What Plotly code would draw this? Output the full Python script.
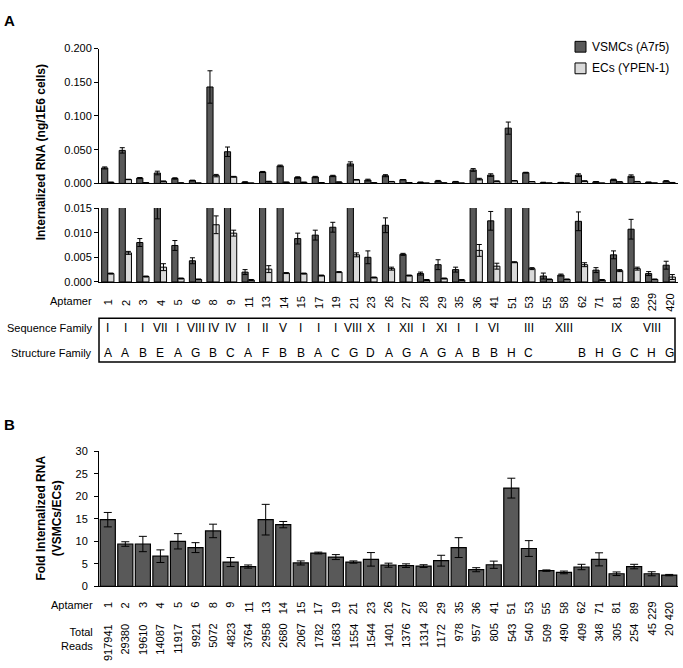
import plotly.graph_objects as go

aptamers = ["1", "2", "3", "4", "5", "6", "8", "9", "11", "13", "14", "15", "17", "19", "21",
            "23", "26", "27", "28", "29", "35", "36", "41", "51", "53", "55", "58", "62", "71",
            "81", "89", "229", "420"]

vsmc = [0.023, 0.049, 0.0080, 0.0155, 0.0074, 0.0043, 0.143, 0.047, 0.0020, 0.017, 0.026,
        0.0088, 0.0095, 0.0111, 0.029, 0.0050, 0.0115, 0.0056, 0.0017, 0.0035, 0.0025, 0.020,
        0.0124, 0.082, 0.016, 0.0012, 0.0014, 0.0123, 0.0024, 0.0055, 0.0107, 0.0017, 0.0034]
vsmc_err = [0.0015, 0.004, 0.0008, 0.0027, 0.001, 0.0006, 0.024, 0.007, 0.0005, 0.0008, 0.0012,
            0.0011, 0.001, 0.001, 0.003, 0.0013, 0.0015, 0.0002, 0.0003, 0.001, 0.0005, 0.002,
            0.0019, 0.009, 0.0006, 0.0006, 0.0002, 0.0019, 0.0005, 0.0008, 0.002, 0.0004, 0.0008]

ec = [0.0017, 0.0059, 0.0011, 0.0030, 0.0007, 0.0005, 0.0116, 0.0099, 0.0004, 0.0026, 0.0018,
      0.0017, 0.0013, 0.0020, 0.0055, 0.0009, 0.0027, 0.0013, 0.0004, 0.0007, 0.0004, 0.0064,
      0.0032, 0.0040, 0.0027, 0.0005, 0.0005, 0.0035, 0.0004, 0.0023, 0.0027, 0.0005, 0.0010]
ec_err = [0.0001, 0.0003, 0.0001, 0.0007, 0.0001, 0.0001, 0.0018, 0.0006, 0.0001, 0.0007, 0.0001,
          0.0001, 0.0001, 0.0001, 0.0004, 0.0001, 0.0003, 0.0001, 0.0001, 0.0001, 0.0001, 0.0012,
          0.0006, 0.0001, 0.0002, 0.0001, 0.0001, 0.0004, 0.0001, 0.0002, 0.0003, 0.0001, 0.0005]

fold = [14.8, 9.4, 9.4, 6.7, 10.0, 8.6, 12.3, 5.4, 4.4, 14.8, 13.7, 5.2, 7.4, 6.5, 5.4, 6.0,
        4.7, 4.6, 4.5, 5.7, 8.6, 3.7, 4.8, 21.8, 8.4, 3.5, 3.1, 4.3, 6.0, 2.8, 4.4, 2.8, 2.5]
fold_err = [1.6, 0.5, 1.7, 1.4, 1.7, 1.1, 1.5, 1.0, 0.35, 3.4, 0.7, 0.45, 0.2, 0.55, 0.25, 1.5,
            0.45, 0.4, 0.3, 1.2, 2.2, 0.45, 0.8, 2.2, 1.75, 0.15, 0.3, 0.6, 1.45, 0.4, 0.5, 0.45, 0.15]

total_reads = [917941, 29380, 19610, 14087, 11917, 9921, 5072, 4823, 3764, 2958, 2680, 2067,
               1782, 1683, 1554, 1544, 1401, 1376, 1314, 1172, 978, 957, 805, 543, 540, 509,
               490, 409, 348, 305, 254, 45, 20]

seq_family = ["I", "I", "I", "VII", "I", "VIII", "IV", "IV", "I", "II", "V", "I", "I", "I",
              "VIII", "X", "I", "XII", "I", "XI", "I", "I", "VI", "", "III", "", "XIII", "", "",
              "IX", "", "VIII", ""]
struct_family = ["A", "A", "B", "E", "A", "G", "B", "C", "A", "F", "B", "B", "A", "C", "G",
                 "D", "A", "G", "A", "G", "A", "B", "B", "H", "C", "", "", "B", "H", "G", "C",
                 "H", "G"]

W, H = 683, 668
DARK = "#595959"
LIGHT = "#dadada"
FONT = "Liberation Sans, Arial, sans-serif"


def px(x):
    return x / W


def py(y):
    return 1 - y / H


xdom = [px(99), px(678)]
xrange_ = [-0.5, len(aptamers) - 0.5]

fig = go.Figure()

for xa, ya in (("x", "y"), ("x2", "y2")):
    fig.add_trace(go.Bar(
        x=aptamers, y=vsmc, name="VSMCs (A7r5)", xaxis=xa, yaxis=ya,
        marker=dict(color=DARK, line=dict(color="black", width=1)),
        error_y=dict(type="data", array=vsmc_err, color="black", thickness=1, width=2.5),
        showlegend=False))
    fig.add_trace(go.Bar(
        x=aptamers, y=ec, name="ECs (YPEN-1)", xaxis=xa, yaxis=ya,
        marker=dict(color=LIGHT, line=dict(color="black", width=1)),
        error_y=dict(type="data", array=ec_err, color="black", thickness=1, width=2.5),
        showlegend=False))

fig.add_trace(go.Bar(
    x=aptamers, y=fold, name="Fold", xaxis="x3", yaxis="y3", width=0.86,
    marker=dict(color=DARK, line=dict(color="black", width=1.2)),
    error_y=dict(type="data", array=fold_err, color="black", thickness=1, width=4),
    showlegend=False))

xcommon = dict(type="category", categoryorder="array", categoryarray=aptamers,
               range=xrange_, autorange=False,
               showticklabels=False, ticks="", showline=True, linecolor="black",
               linewidth=1, showgrid=False, zeroline=False, domain=xdom)
ycommon = dict(showline=True, linecolor="black", linewidth=1, ticks="outside", ticklen=4,
               tickcolor="black", showgrid=False, zeroline=False,
               tickfont=dict(size=11, color="black", family=FONT))

fig.update_layout(
    width=W, height=H,
    margin=dict(l=0, r=0, t=0, b=0),
    paper_bgcolor="white", plot_bgcolor="white",
    font=dict(family=FONT, size=11, color="black"),
    barmode="group", bargap=0.3, bargroupgap=0,
    xaxis=dict(**xcommon, anchor="y"),
    xaxis2=dict(**xcommon, anchor="y2"),
    xaxis3=dict(**xcommon, anchor="y3"),
    yaxis=dict(**ycommon, anchor="x", domain=[py(180.7), py(43.3)], range=[0, 0.2],
               tickvals=[0, 0.05, 0.1, 0.15, 0.2], tickformat=".3f"),
    yaxis2=dict(**ycommon, anchor="x2", domain=[py(281), py(205.7)], range=[0, 0.015],
                tickvals=[0, 0.005, 0.01, 0.015], tickformat=".3f"),
    yaxis3=dict(**ycommon, anchor="x3", domain=[py(591), py(453.3)], range=[0, 30],
                tickvals=[0, 5, 10, 15, 20, 25, 30], ticklabelstandoff=4),
)

ann = []
shapes = []


def note(text, x, y, xref="paper", xanchor="center", yanchor="middle", size=11,
         angle=0, align="center"):
    ann.append(dict(text=text, x=x, y=y, xref=xref, yref="paper", xanchor=xanchor,
                    yanchor=yanchor, textangle=angle, align=align, showarrow=False,
                    font=dict(size=size)))


# Panel letters
note("<b>A</b>", px(2), py(4), xanchor="left", yanchor="top", size=15)
note("<b>B</b>", px(2), py(415), xanchor="left", yanchor="top", size=15)

# Y-axis titles
note("<b>Internalized RNA (ng/1E6 cells)</b>", px(41), py(149), size=12, angle=-90)
note("<b>Fold Internalized RNA<br>(VSMCs/ECs)</b>", px(49), py(522), size=12, angle=-90)

# Legend (manual)
for i, (lab, col) in enumerate((("VSMCs (A7r5)", DARK), ("ECs (YPEN-1)", LIGHT))):
    yc = 41.5 + 22 * i
    shapes.append(dict(type="rect", xref="paper", yref="paper", x0=px(575), x1=px(586),
                       y0=py(yc + 5.5), y1=py(yc - 5.5), fillcolor=col,
                       line=dict(color="black", width=1)))
    note(lab, px(590), py(yc), xanchor="left", size=12)

# Aptamer row panel A
note("Aptamer", px(94), py(300), xanchor="right")
for i, a in enumerate(aptamers):
    note(a, i, py(302), xref="x2", angle=-90)

# Family table
shapes.append(dict(type="rect", xref="paper", yref="paper", x0=px(99), x1=px(675),
                   y0=py(362.5), y1=py(318), line=dict(color="black", width=1.5)))
note("Sequence Family", px(94), py(327.7), xanchor="right")
note("Structure Family", px(94), py(353), xanchor="right")
for i, (s, t) in enumerate(zip(seq_family, struct_family)):
    if s:
        note(s, i, py(327.7), xref="x2", size=12)
    if t:
        note(t, i, py(353), xref="x2", size=12)

# Panel B rows
note("Aptamer", px(95), py(610), xanchor="right")
note("Total<br>Reads", px(95), py(645), xanchor="right", align="right")
for i, (a, r) in enumerate(zip(aptamers, total_reads)):
    note(a, i, py(605), xref="x3", yanchor="top", angle=-90)
    note(str(r), i, py(627), xref="x3", yanchor="top", angle=-90)

fig.update_layout(annotations=ann, shapes=shapes)
fig.write_html("out.html", config={"displayModeBar": False})

# remove default page margin so the figure fills the window exactly
with open("out.html", encoding="utf-8") as f:
    html = f.read()
html = html.replace("<head>", "<head><style>html,body{margin:0;padding:0;overflow:hidden;}</style>", 1)
with open("out.html", "w", encoding="utf-8") as f:
    f.write(html)
